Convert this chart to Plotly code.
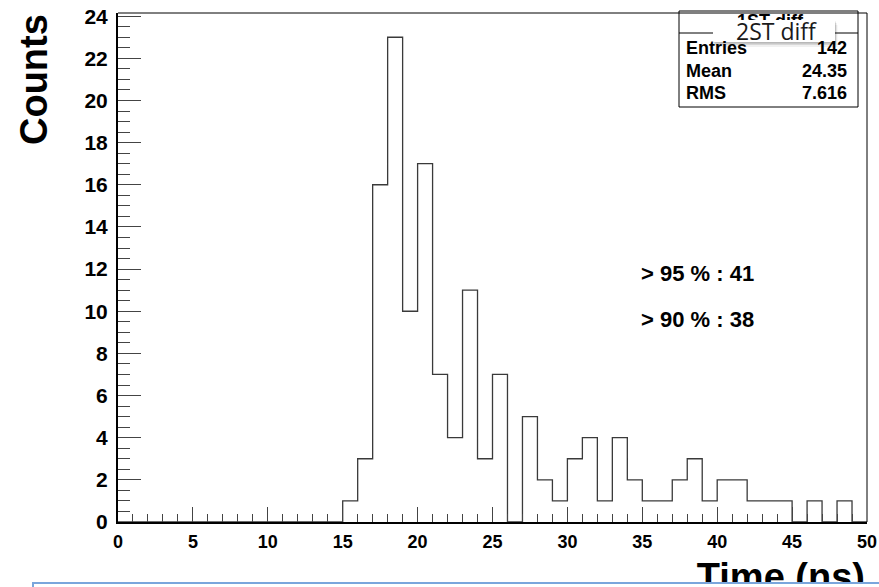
import numpy as np
import plotly.graph_objects as go

# ---- data ----
bin_lo = 0
bin_hi = 50
counts = [0, 0, 0, 0, 0, 0, 0, 0, 0, 0,
          0, 0, 0, 0, 0, 1, 3, 16, 23, 10,
          17, 7, 4, 11, 3, 7, 0, 5, 2, 1,
          3, 4, 1, 4, 2, 1, 1, 2, 3, 1,
          2, 2, 1, 1, 1, 0, 1, 0, 1, 0]
stat_labels = ["Entries", "Mean", "RMS"]
stat_values = ["142", "24.35", "7.616"]
hist_name = "1ST diff"
overlay_name = "2ST diff"
notes = ["> 95 % : 41", "> 90 % : 38"]
x_title = "Time (ns)"
y_title = "Counts"

W, H = 879, 587
L, R, T, B = 118, 12, 13, 65
Y_TOP = 24.15


def px(x):
    return x / W


def py(y):
    return 1 - y / H


edges = np.arange(bin_lo, bin_hi + 1)
xs = [edges[0]] + list(edges[:-1]) + [edges[-1]]
ys = [0] + list(counts) + [0]

fig = go.Figure()
fig.add_trace(go.Scatter(x=xs, y=ys, mode="lines", line=dict(shape="hv", color="#3a3a3a", width=1.3),
                         hoverinfo="skip", showlegend=False))

# texts drawn in a full-page pixel subplot so that shapes (drawn above traces) can cover them
fig.add_trace(go.Scatter(x=[865], y=[580], xaxis="x2", yaxis="y2", mode="text", text=[x_title],
                         textposition="middle left",
                         textfont=dict(family="Liberation Sans", size=38, color="black", weight="bold"),
                         hoverinfo="skip", showlegend=False))
fig.add_trace(go.Scatter(x=[770], y=[22], xaxis="x2", yaxis="y2", mode="text", text=[hist_name],
                         textposition="middle center",
                         textfont=dict(family="Liberation Sans", size=18, color="black", weight="bold"),
                         hoverinfo="skip", showlegend=False))

x_dom = [L / W, (W - R) / W]
y_dom = [B / H, (H - T) / H]

shapes = []
# frame top / right
shapes.append(dict(type="line", xref="paper", yref="paper", x0=x_dom[0], x1=x_dom[1], y0=y_dom[1], y1=y_dom[1],
                   line=dict(color="black", width=1)))
shapes.append(dict(type="line", xref="paper", yref="paper", x0=x_dom[1], x1=x_dom[1], y0=y_dom[0], y1=y_dom[1],
                   line=dict(color="black", width=1)))
# stats box
shapes.append(dict(type="rect", xref="paper", yref="paper", x0=px(679), x1=px(858), y0=py(107), y1=py(11),
                   fillcolor="rgba(255,255,255,0)", line=dict(color="black", width=1)))
shapes.append(dict(type="line", xref="paper", yref="paper", x0=px(679), x1=px(858), y0=py(33), y1=py(33),
                   line=dict(color="black", width=1)))
# overlay label box with shadow
for off, op in [(5, 0.06), (3, 0.10), (1.5, 0.14)]:
    shapes.append(dict(type="rect", xref="paper", yref="paper", x0=px(713 + off / 2), x1=px(835 + off / 2),
                       y0=py(42 + off), y1=py(20 + off), fillcolor="rgba(0,0,0,%.2f)" % op, line=dict(width=0)))
shapes.append(dict(type="rect", xref="paper", yref="paper", x0=px(713), x1=px(835), y0=py(42), y1=py(20),
                   fillcolor="white", line=dict(width=0)))
# bottom blue text box
shapes.append(dict(type="rect", xref="paper", yref="paper", x0=px(33), x1=px(900), y0=py(610), y1=py(583),
                   fillcolor="white", line=dict(color="#7aa6dc", width=2)))
fig.update_layout(shapes=shapes)

ann = []
ann.append(dict(x=px(34), y=py(80), xref="paper", yref="paper", text=y_title, textangle=-90, showarrow=False,
                xanchor="center", yanchor="middle",
                font=dict(family="Liberation Sans", size=38, color="black", weight="bold")))
row_y = [48, 71, 92.5]
for lab, val, yy in zip(stat_labels, stat_values, row_y):
    ann.append(dict(x=px(684), y=py(yy), xref="paper", yref="paper", text=lab, showarrow=False,
                    xanchor="left", yanchor="middle",
                    font=dict(family="Liberation Sans", size=18, color="black", weight="bold")))
    ann.append(dict(x=px(849), y=py(yy), xref="paper", yref="paper", text=val, showarrow=False,
                    xanchor="right", yanchor="middle",
                    font=dict(family="Liberation Sans", size=18, color="black", weight="bold")))
for note, yy in zip(notes, [273, 319]):
    ann.append(dict(x=px(639), y=py(yy), xref="paper", yref="paper", text=note, showarrow=False,
                    xanchor="left", yanchor="middle",
                    font=dict(family="Liberation Sans", size=22, color="black", weight="bold")))
ann.append(dict(x=px(776), y=py(31), xref="paper", yref="paper", text=overlay_name, showarrow=False,
                xanchor="center", yanchor="middle",
                font=dict(family="Open Sans", size=23, color="#1a1a1a")))
fig.update_layout(annotations=ann)

fig.update_layout(
    width=W, height=H,
    margin=dict(l=0, r=0, t=0, b=0, pad=0, autoexpand=False),
    paper_bgcolor="white", plot_bgcolor="rgba(0,0,0,0)",
    showlegend=False,
    xaxis=dict(domain=x_dom, anchor="y", range=[bin_lo, bin_hi], showgrid=False, zeroline=False, showline=True,
               linecolor="black", automargin=False,
               linewidth=2, ticks="inside", ticklen=15, tickwidth=1, tickcolor="#444", dtick=5, tick0=0,
               tickfont=dict(family="Liberation Sans", size=18, color="black", weight="bold"),
               ticklabelstandoff=2,
               minor=dict(ticks="inside", dtick=1, ticklen=8, tickwidth=1, tickcolor="#444", showgrid=False)),
    yaxis=dict(domain=y_dom, anchor="x", range=[0, Y_TOP], showgrid=False, zeroline=False, showline=True,
               linecolor="black", automargin=False,
               linewidth=2, ticks="inside", ticklen=23, tickwidth=1, tickcolor="#444", dtick=2, tick0=0,
               tickfont=dict(family="Liberation Sans", size=21, color="black", weight="bold"),
               ticklabelstandoff=4,
               minor=dict(ticks="inside", dtick=0.5, ticklen=12, tickwidth=1, tickcolor="#444", showgrid=False)),
    xaxis2=dict(domain=[0, 1], anchor="y2", range=[0, W], visible=False, fixedrange=True, automargin=False),
    yaxis2=dict(domain=[0, 1], anchor="x2", range=[H, 0], visible=False, fixedrange=True, automargin=False),
)

fig.write_html("out.html", config={"displayModeBar": False},
               post_script="document.body.style.margin='0';document.body.style.overflow='hidden';")
